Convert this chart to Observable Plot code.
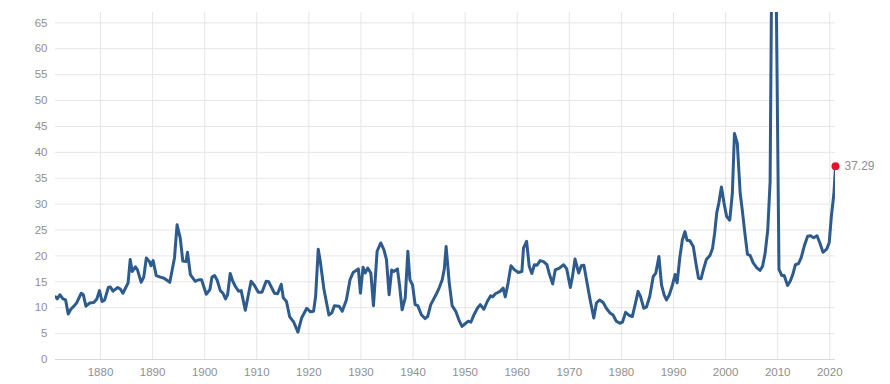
<!DOCTYPE html>
<html>
<head>
<meta charset="utf-8">
<script src="https://cdn.jsdelivr.net/npm/d3@7"></script>
<script src="https://cdn.jsdelivr.net/npm/@observablehq/plot@0.6"></script>
<style>
  html, body { margin: 0; padding: 0; background: #fff; }
  #chart { width: 890px; height: 384px; }
  svg { font-family: "Liberation Sans", Arial, sans-serif; }
</style>
</head>
<body>
<div id="chart"></div>
<script>
const years = [
  1871.4, 1871.7, 1872.2, 1872.8, 1873.3, 1873.8, 1874.3, 1874.9, 1875.4, 1876.3,
  1876.7, 1877.2, 1877.9, 1878.7, 1879.3, 1879.8, 1880.3, 1880.8, 1881.5, 1881.9,
  1882.4, 1883.3, 1883.8, 1884.3, 1885.3, 1885.7, 1886.1, 1886.7, 1887.1, 1887.8,
  1888.3, 1888.8, 1889.4, 1889.7, 1890.1, 1890.7, 1891.5, 1892.2, 1893.3, 1894.2,
  1894.7, 1895.3, 1895.8, 1896.4, 1896.7, 1897.25, 1898.2, 1898.85, 1899.4, 1900.3,
  1901.0, 1901.4, 1901.9, 1902.4, 1903.0, 1903.5, 1904.0, 1904.4, 1904.9, 1905.4,
  1905.9, 1906.5, 1907.0, 1907.8, 1908.9, 1909.5, 1910.3, 1911.0, 1911.8, 1912.3,
  1913.4, 1914.0, 1914.7, 1915.1, 1915.7, 1916.3, 1917.1, 1917.9, 1918.6, 1919.6,
  1920.3, 1920.9, 1921.3, 1921.8, 1922.2, 1922.9, 1923.85, 1924.4, 1924.9, 1925.8,
  1926.4, 1927.2, 1927.9, 1928.5, 1929.5, 1929.9, 1930.4, 1930.8, 1931.3, 1931.9,
  1932.4, 1933.1, 1933.8, 1934.4, 1934.9, 1935.4, 1935.9, 1936.3, 1937.0, 1937.4,
  1937.9, 1938.5, 1939.0, 1939.4, 1939.9, 1940.4, 1940.9, 1941.6, 1942.3, 1942.8,
  1943.4, 1944.4, 1945.0, 1945.6, 1946.0, 1946.35, 1946.95, 1947.5, 1948.2, 1948.9,
  1949.4, 1950.0, 1950.6, 1951.1, 1951.7, 1952.35, 1952.9, 1953.6, 1954.25, 1954.9,
  1955.3, 1955.8, 1956.7, 1957.3, 1957.7, 1958.25, 1958.8, 1959.5, 1960.2, 1960.9,
  1961.2, 1961.8, 1962.3, 1962.8, 1963.3, 1963.8, 1964.4, 1965.05, 1965.7, 1966.2,
  1966.8, 1967.3, 1968.1, 1968.9, 1969.5, 1970.2, 1970.6, 1971.1, 1971.8, 1972.3,
  1972.8, 1973.4, 1974.0, 1974.7, 1975.2, 1975.8, 1976.5, 1977.1, 1977.8, 1978.4,
  1979.0, 1979.7, 1980.2, 1980.8, 1981.5, 1982.1, 1982.7, 1983.2, 1983.65, 1984.3,
  1984.8, 1985.45, 1986.1, 1986.6, 1987.2, 1987.7, 1988.2, 1988.65, 1989.2, 1989.8,
  1990.3, 1990.7, 1991.2, 1991.7, 1992.2, 1992.6, 1993.1, 1993.8, 1994.3, 1994.8,
  1995.3, 1995.7, 1996.3, 1997.0, 1997.5, 1997.9, 1998.3, 1998.7, 1999.2, 1999.7,
  2000.2, 2000.8, 2001.3, 2001.7, 2002.25, 2002.8, 2003.2, 2003.7, 2004.2, 2004.7,
  2005.3, 2006.0, 2006.6, 2007.1, 2007.6, 2008.1, 2008.55, 2009.2, 2010.25, 2010.8,
  2011.25, 2011.9, 2012.4, 2012.9, 2013.4, 2014.0, 2014.5, 2015.1, 2015.75, 2016.3,
  2016.9, 2017.55, 2018.1, 2018.7, 2019.4, 2019.9, 2020.3, 2020.8, 2021.1
];
const pe = [
  12.1, 11.7, 12.5, 11.7, 11.5, 8.8, 9.7, 10.3, 10.9, 12.8,
  12.5, 10.3, 10.9, 11.0, 11.7, 13.3, 11.2, 11.5, 13.9, 14.0,
  13.2, 13.9, 13.6, 12.8, 14.8, 19.3, 17.0, 17.9, 17.3, 14.9,
  15.9, 19.6, 18.9, 18.1, 19.1, 16.2, 15.9, 15.7, 14.9, 19.6,
  26.0, 23.5, 19.0, 18.9, 20.7, 16.4, 15.1, 15.4, 15.4, 12.6,
  13.5, 15.9, 16.2, 15.3, 13.3, 12.8, 11.7, 12.5, 16.6, 15.1,
  14.1, 13.2, 13.3, 9.5, 15.1, 14.4, 13.0, 13.0, 15.1, 15.0,
  12.8, 12.7, 14.5, 11.9, 11.2, 8.3, 7.2, 5.3, 8.0, 9.9,
  9.2, 9.3, 12.2, 21.3, 18.9, 13.5, 8.6, 9.0, 10.4, 10.3,
  9.3, 11.5, 15.4, 16.8, 17.5, 12.8, 17.8, 16.7, 17.65, 16.7,
  10.4, 20.9, 22.5, 21.2, 19.3, 12.5, 17.3, 17.0, 17.5, 14.4,
  9.6, 11.9, 20.9, 15.4, 14.4, 10.6, 10.4, 8.65, 7.9, 8.3,
  10.6, 12.5, 13.8, 15.4, 17.5, 21.8, 14.8, 10.4, 9.3, 7.4,
  6.4, 6.9, 7.4, 7.2, 8.65, 9.9, 10.6, 9.7, 11.2, 12.3,
  12.1, 12.7, 13.15, 13.8, 12.1, 14.8, 18.1, 17.3, 16.8, 17.0,
  21.5, 22.8, 18.0, 16.6, 18.3, 18.2, 19.1, 18.9, 18.3, 16.4,
  14.6, 17.3, 17.65, 18.3, 17.5, 13.9, 16.0, 19.4, 16.7, 18.1,
  18.2, 14.8, 11.5, 8.0, 10.9, 11.5, 11.0, 9.9, 9.0, 8.6,
  7.4, 7.0, 7.2, 9.1, 8.5, 8.3, 10.9, 13.15, 12.2, 9.9,
  10.1, 12.2, 16.0, 16.7, 19.9, 14.4, 12.5, 11.5, 12.5, 14.4,
  16.4, 14.8, 19.6, 23.1, 24.7, 23.0, 23.0, 21.8, 18.6, 15.7,
  15.6, 17.2, 19.3, 20.1, 21.5, 24.4, 28.3, 30.2, 33.3, 30.2,
  27.6, 26.9, 32.1, 43.65, 41.7, 32.1, 28.9, 24.4, 20.3, 20.1,
  18.65, 17.7, 17.2, 18.0, 20.6, 25.1, 34.4, 123.7, 17.4, 16.2,
  16.2, 14.3, 15.1, 16.4, 18.3, 18.5, 19.6, 21.9, 23.8, 23.9,
  23.5, 23.9, 22.5, 20.7, 21.3, 22.6, 27.6, 32.1, 37.29
];
const xTicks = [1880, 1890, 1900, 1910, 1920, 1930, 1940, 1950, 1960, 1970, 1980, 1990, 2000, 2010, 2020];
const yTicks = [0, 5, 10, 15, 20, 25, 30, 35, 40, 45, 50, 55, 60, 65];

const data = years.map((y, i) => ({year: y, pe: pe[i]}));
const last = data[data.length - 1];

const chart = Plot.plot({
  width: 890,
  height: 384,
  marginLeft: 55,
  marginRight: 55,
  marginTop: 12,
  marginBottom: 25,
  style: {fontSize: "11.5px", fontFamily: "'Liberation Sans', Arial, sans-serif", background: "#fff", overflow: "visible"},
  x: {domain: [1871.36, 2021.1]},
  y: {domain: [0, 67]},
  marks: [
    Plot.gridX(xTicks, {stroke: "#e6e6e6", strokeOpacity: 1}),
    Plot.gridY(yTicks.slice(1), {stroke: "#e6e6e6", strokeOpacity: 1}),
    Plot.ruleY([0], {stroke: "#d8d8d8"}),
    Plot.axisX(xTicks, {tickSize: 0, tickPadding: 8, tickFormat: d => String(d), color: "#8f8f8f", label: null}),
    Plot.axisY(yTicks, {tickSize: 0, tickPadding: 8, color: "#8f8f8f", label: null}),
    Plot.line(data, {x: "year", y: "pe", stroke: "#2e5b8d", strokeWidth: 3, clip: true, strokeLinejoin: "round"}),
    Plot.dot([last], {x: "year", y: "pe", r: 4, fill: "#e6112d", stroke: "none"}),
    Plot.text([last], {x: "year", y: "pe", text: d => d.pe.toFixed(2), dx: 9, textAnchor: "start", fill: "#8f8f8f", fontSize: 12})
  ]
});
document.getElementById("chart").appendChild(chart);
</script>
</body>
</html>
